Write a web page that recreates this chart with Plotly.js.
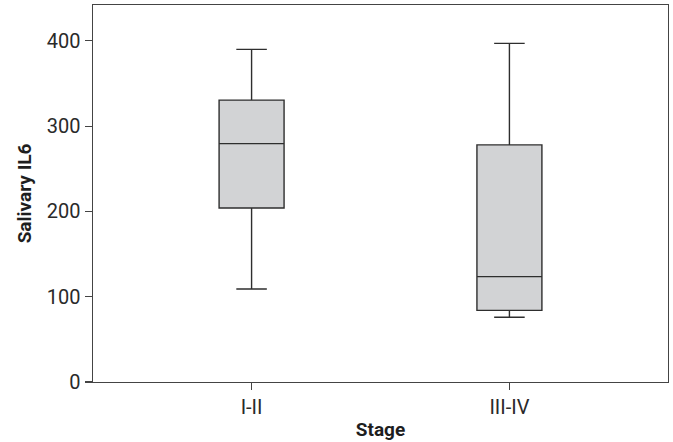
<!DOCTYPE html>
<html>
<head>
<meta charset="utf-8">
<script src="https://cdn.plot.ly/plotly-3.0.1.min.js"></script>
<style>html,body{margin:0;padding:0;background:#fff;}#chart{width:673px;height:442px;}</style>
</head>
<body>
<div id="chart"></div>
<script>
const categories = ["I-II", "III-IV"];
const lowerWhisker = [109, 76];
const q1 = [204, 84];
const median = [279.5, 123.5];
const q3 = [330.5, 278];
const upperWhisker = [390, 397];
const yTicks = [0, 100, 200, 300, 400];

const trace = {
  type: 'box',
  x: categories,
  q1: q1,
  median: median,
  q3: q3,
  lowerfence: lowerWhisker,
  upperfence: upperWhisker,
  width: 0.252,
  whiskerwidth: 0.47,
  fillcolor: '#d2d3d5',
  line: {color: '#2e2e2e', width: 1.4},
  boxpoints: false,
  hoverinfo: 'skip'
};

const layout = {
  width: 673, height: 442,
  margin: {l: 93, r: 5, t: 5, b: 60},
  paper_bgcolor: '#fff', plot_bgcolor: '#fff',
  showlegend: false,
  font: {family: 'Roboto, sans-serif', color: '#222'},
  xaxis: {
    type: 'category',
    range: [-0.615, 1.615],
    automargin: false,
    showline: true, mirror: true, linecolor: '#444', linewidth: 1.4,
    ticks: 'outside', ticklen: 7, tickcolor: '#444', tickwidth: 1.2,
    showgrid: false, zeroline: false,
    tickfont: {size: 20, color: '#2a2a2a'},
    title: {text: 'Stage', font: {size: 19, color: '#1e1e1e', weight: 'bold'}, standoff: 4}
  },
  yaxis: {
    range: [0, 442],
    automargin: false,
    tickvals: yTicks,
    ticktext: yTicks.map(String),
    showline: true, mirror: true, linecolor: '#444', linewidth: 1.4,
    ticks: 'outside', ticklen: 7, tickcolor: '#444', tickwidth: 1.2,
    showgrid: false, zeroline: false,
    tickfont: {size: 20, color: '#2a2a2a'},
    title: {text: 'Salivary IL6', font: {size: 19, color: '#1e1e1e', weight: 'bold'}, standoff: 10}
  }
};

Plotly.newPlot('chart', [trace], layout, {staticPlot: true, displayModeBar: false});
</script>
</body>
</html>
